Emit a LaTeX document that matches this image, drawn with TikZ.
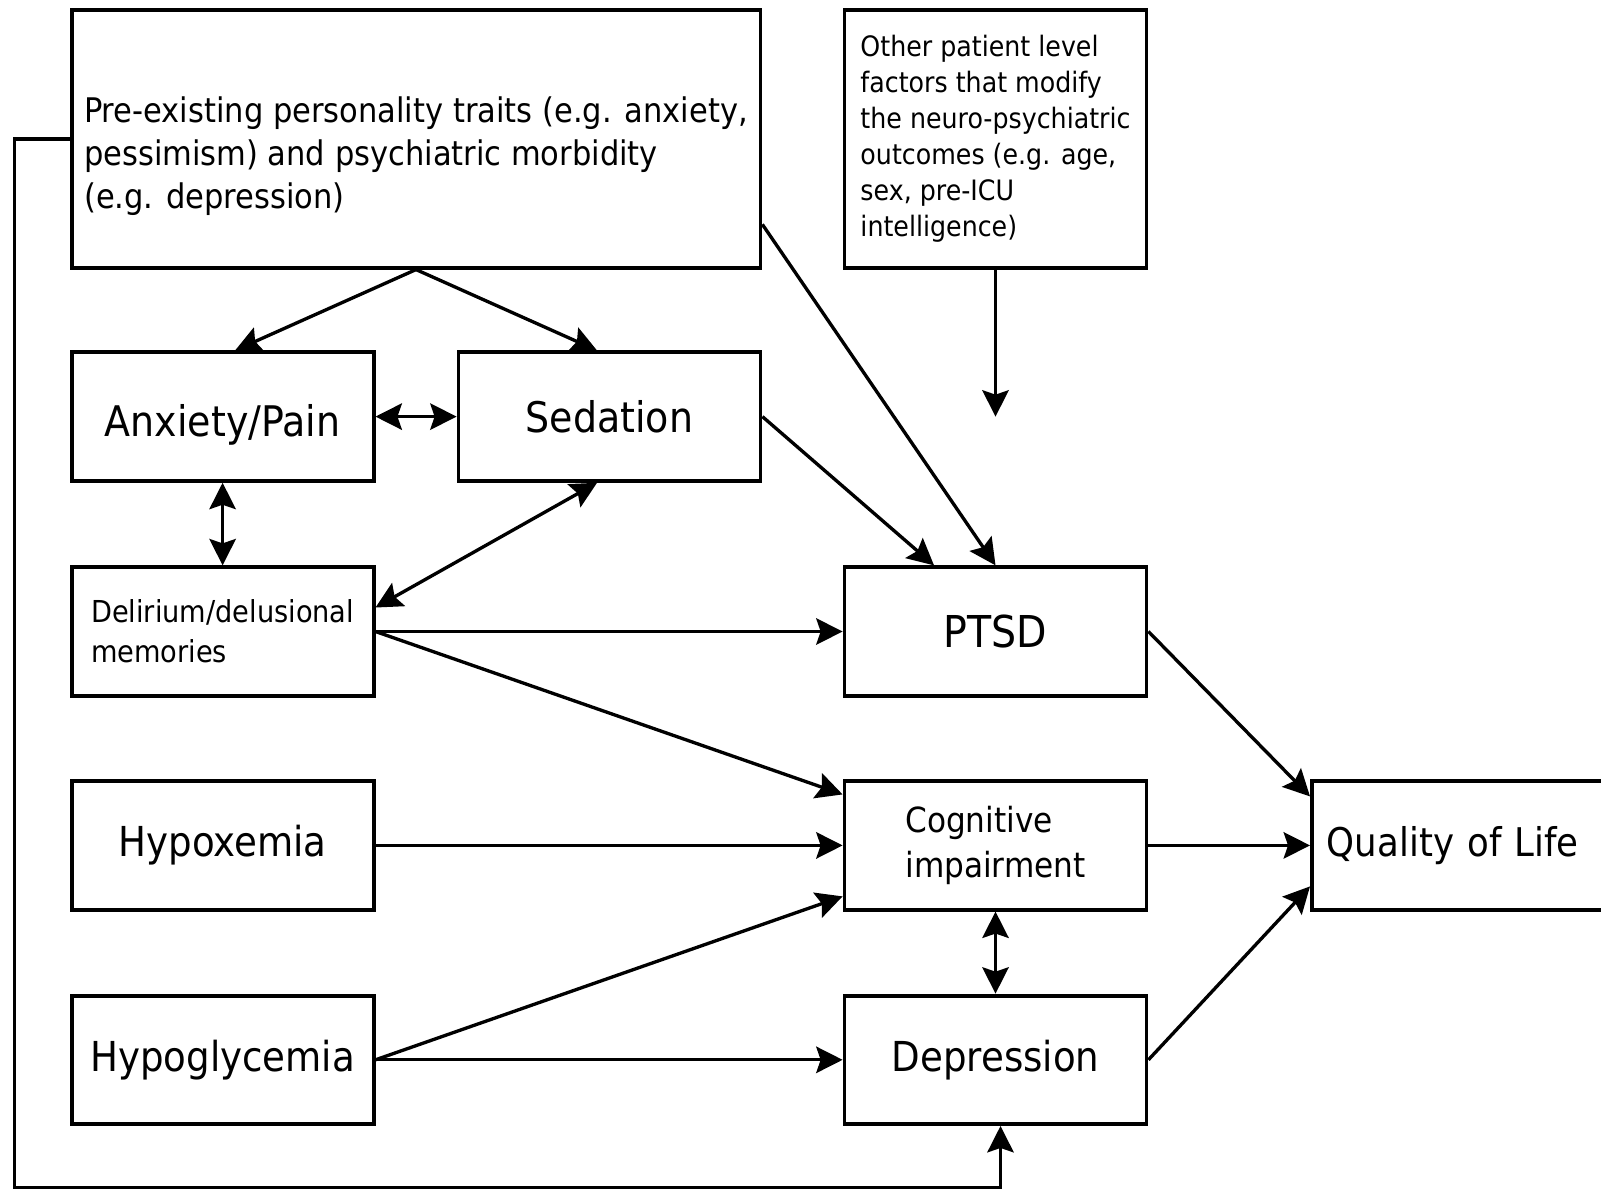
\documentclass[tikz,border=0pt]{standalone}
\usepackage{fontspec}
\setmainfont{DejaVu Sans}[FakeStretch=0.9]
\usepackage{tikz}
\usetikzlibrary{arrows.meta,positioning,calc}
\tikzset{
  icubox/.style={draw,line width=2.2pt,inner sep=0pt,align=left,minimum width=6.04cm,minimum height=2.57cm,font=\fontsize{23.5}{28}\selectfont},
  icunote/.style={icubox,minimum height=5.15cm,font=\fontsize{16}{20.5}\selectfont},
  icuflow/.style={-{Stealth[length=15pt,width=15pt,inset=2.5pt]},line width=1.9pt},
  icuboth/.style={{Stealth[length=15pt,width=15pt,inset=2.5pt]}-{Stealth[length=15pt,width=15pt,inset=2.5pt]},line width=1.9pt},
}

\begin{document}
\begin{tikzpicture}[x=0.02cm,y=-0.02cm]
\useasboundingbox(0,0)rectangle(1601,1191);
% left column
\node[icubox,minimum width=13.78cm,minimum height=5.15cm,font=\fontsize{19.3}{24.6}\selectfont](pre)at(416,138.9){\rule{0pt}{34pt}Pre-existing personality traits (e.g. anxiety,\\pessimism) and psychiatric morbidity\\(e.g. depression)};
\node[icunote](oth)at(995.5,138.9){Other patient level\\factors that modify\\the neuro-psychiatric\\outcomes (e.g. age,\\sex, pre-ICU\\intelligence)};
\node[icubox,font=\fontsize{24}{29}\selectfont](anx)at(222.6,416.6){\rule{0pt}{28pt}Anxiety/Pain};
\node[icubox,font=\fontsize{24}{29}\selectfont](sed)at(609.5,416.6){Sedation};
\node[icubox,font=\fontsize{17.2}{22.6}\selectfont](del)at(222.6,631.5){Delirium/delusional\\memories};
\node[icubox](hypox)at(222.6,845.4){Hypoxemia};
\node[icubox](hypog)at(222.6,1059.8){Hypoglycemia};
% right column
\node[icubox,font=\fontsize{25}{30}\selectfont](ptsd)at(995.5,631.5){PTSD};
\node[icubox,font=\fontsize{19.7}{25.5}\selectfont](cog)at(995.5,845.4){Cognitive\\impairment};
\node[icubox](dep)at(995.5,1059.8){Depression};
\node[icubox,anchor=west,text width=6.2cm,font=\fontsize{22.5}{27}\selectfont](qol)at(1310,845.4){\hspace*{3mm}Quality of Life};
\coordinate(othend)at(995.5,416.6);
\coordinate(loopc)at(14.3,1187.4);
% connectors
\draw[icuflow](pre.south)--([xshift=0.25cm]anx.north);
\draw[icuflow](pre.south)--([xshift=-0.25cm]sed.north);
\draw[icuflow]([yshift=-1.71cm]pre.east)--(ptsd.north);
\draw[icuflow](oth)--(othend);
\draw[icuboth](anx)--(sed);
\draw[icuboth](anx)--(del);
\draw[icuboth]([xshift=-0.25cm]sed.south)--([yshift=0.48cm]del.east);
\draw[icuflow](sed.east)--([xshift=-1.23cm]ptsd.north);
\draw[icuflow](del.east)--(ptsd.west);
\draw[icuflow](del.east)--([yshift=1.02cm]cog.west);
\draw[icuflow](hypox)--(cog);
\draw[icuflow](hypog.east)--([yshift=-1.02cm]cog.west);
\draw[icuflow](hypog)--(dep);
\draw[icuboth](cog)--(dep);
\draw[icuflow](ptsd.east)--([yshift=0.98cm]qol.west);
\draw[icuflow](cog)--(qol);
\draw[icuflow](dep.east)--([yshift=-0.82cm]qol.west);
\draw[icuflow](pre.west)-|(loopc)-|([xshift=0.1cm]dep.south);
\end{tikzpicture}
\end{document}
